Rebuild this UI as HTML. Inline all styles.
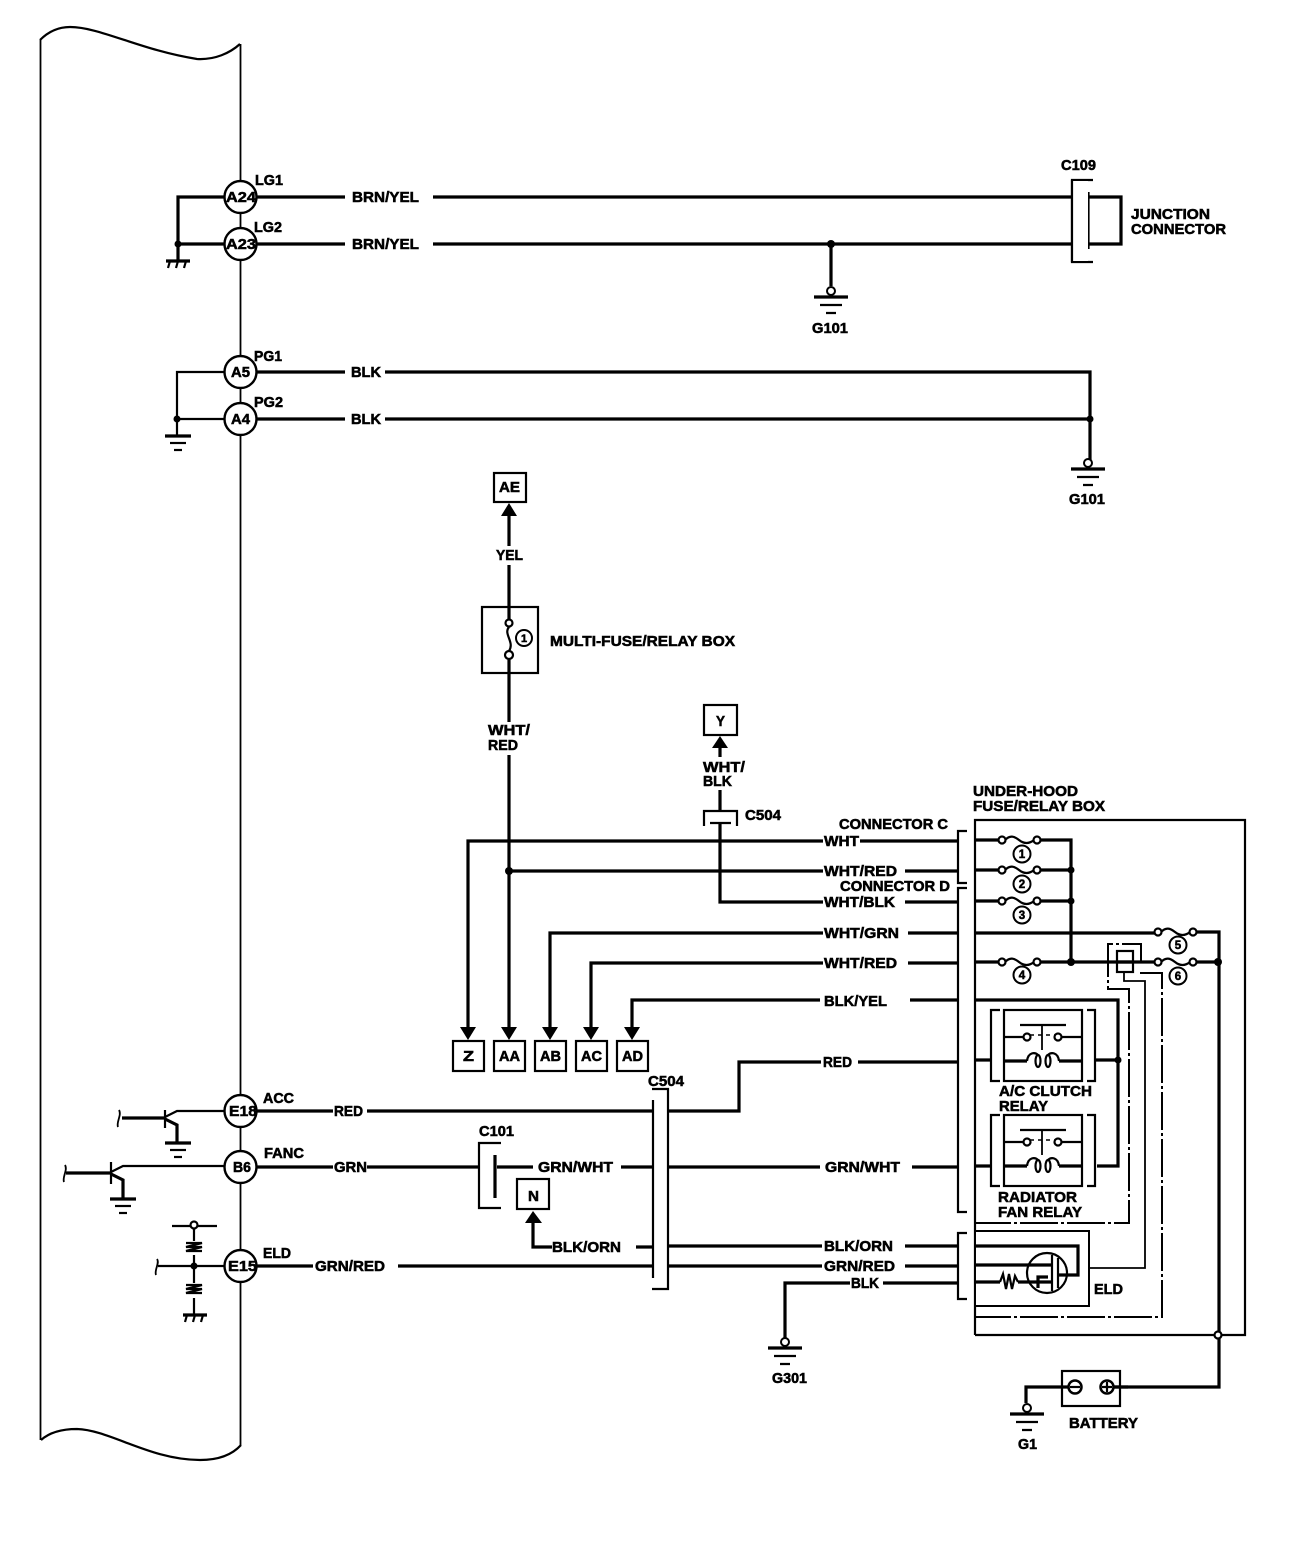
<!DOCTYPE html>
<html><head><meta charset="utf-8"><style>
html,body{margin:0;padding:0;background:#fff}
svg{display:block}
text{font-family:"Liberation Sans",sans-serif;font-weight:700;font-size:14.5px;fill:#000;stroke:#000;stroke-width:.55}
.c{text-anchor:middle}
.w3{stroke:#000;stroke-width:3.2;fill:none}
.w2{stroke:#000;stroke-width:2.2;fill:none}
.w1{stroke:#000;stroke-width:1.8;fill:none}
.dd{stroke:#000;stroke-width:2;fill:none;stroke-dasharray:38 3 3 3}
</style></head><body>
<svg xmlns="http://www.w3.org/2000/svg" width="1312" height="1564" viewBox="0 0 1312 1564">
<defs>
<g id="gnd"><path d="M-17 0H17" class="w3"/><path d="M-11 8H11M-5 16H5" class="w2"/><circle cx="0" cy="-6" r="4" fill="#fff" stroke="#000" stroke-width="2"/></g>
<g id="gnd2"><path d="M-13 0H13" class="w3"/><path d="M-8 7H8" class="w2"/><path d="M-4 14H4" class="w2"/></g>
<g id="hatch"><path d="M-12 0H12" class="w3"/><path d="M-8 0L-10 7M0 0L-2 7M8 0L6 7" class="w2"/></g>
<g id="fuse"><path d="M3 0C8 -5 12 -4 17 0S27 4 32 0" fill="none" stroke="#000" stroke-width="2.2"/><circle cx="0" cy="0" r="3.5" fill="#fff" stroke="#000" stroke-width="2.2"/><circle cx="35" cy="0" r="3.5" fill="#fff" stroke="#000" stroke-width="2.2"/></g>
<g id="relay"><path d="M9 0H0V71H9M96 0H104V71H96" class="w2"/><rect x="13" y="0" width="78" height="71" fill="#fff" stroke="#000" stroke-width="2.2"/>
<path d="M29 15H75" class="w2"/><path d="M51 15V40" class="w1"/><path d="M13 27H33M71 27H91" class="w2"/><path d="M39 25H66" stroke="#000" stroke-width="1.5" stroke-dasharray="4 4"/><circle cx="36" cy="27" r="3.5" fill="#fff" stroke="#000" stroke-width="2.2"/><circle cx="67" cy="27" r="3.5" fill="#fff" stroke="#000" stroke-width="2.2"/>
<path d="M13 51H36M68 51H91" class="w3"/><path d="M36 51C37 42 44 42 47 45M57 45C60 42 67 42 68 51" class="w2"/><ellipse cx="47" cy="51" rx="2.5" ry="6" fill="#fff" stroke="#000" stroke-width="2.2"/><ellipse cx="57" cy="51" rx="2.5" ry="6" fill="#fff" stroke="#000" stroke-width="2.2"/></g>
</defs>

<!-- ECU body -->
<path d="M40 40C48 32 58 27 70 27C100 27 140 50 197 59C215 60 230 53 240 44" class="w2"/>
<path d="M41 1440C50 1432 62 1429 77 1429C110 1430 150 1460 200 1460C218 1460 232 1455 241 1445" class="w2"/>
<path d="M40.5 40V1440" class="w1"/><path d="M240.5 44V1445" class="w1"/>

<!-- Top wires -->
<path d="M257 197H345M433 197H1121V244H433M345 244H257" class="w3"/>
<path d="M224 197H178V260M224 244H178" class="w3"/>
<circle cx="178" cy="244" r="3.5" fill="#000"/>
<use href="#hatch" x="178" y="261"/>
<path d="M1093 180H1072V262H1093" class="w2"/><path d="M1088.5 192V249" class="w2"/>
<rect x="1073" y="181" width="15" height="80" fill="#fff"/><path d="M1072 180V262" class="w2"/>
<path d="M831 244V286" class="w3"/><circle cx="831" cy="244" r="4" fill="#000"/><use href="#gnd" x="831" y="297"/>

<path d="M257 372H345M385 372H1090V462M385 419H1090M345 419H257" class="w3"/>
<path d="M224 372H177V435M224 419H177" class="w2"/><circle cx="177" cy="419" r="3.5" fill="#000"/><use href="#gnd2" x="178" y="436"/>
<circle cx="1090" cy="419" r="3.5" fill="#000"/><use href="#gnd" x="1088" y="469"/>

<!-- AE / multi fuse -->
<rect x="494" y="473" width="32" height="29" fill="#fff" class="w2"/>
<path d="M509 503L501 516H517Z" fill="#000"/><path d="M509 514V546M509 565V620M509 659V722M509 755V1030" class="w3"/>
<rect x="482" y="607" width="56" height="66" fill="none" class="w2"/>
<circle cx="509" cy="623" r="3.5" fill="#fff" stroke="#000" stroke-width="2.2"/><circle cx="509" cy="655" r="4" fill="#fff" stroke="#000" stroke-width="2.2"/>
<path d="M509 627C503 634 515 642 509 651" class="w2"/>
<circle cx="524" cy="638" r="8" fill="#fff" stroke="#000" stroke-width="2"/>

<!-- Y / C504 small -->
<rect x="704" y="705" width="33" height="30" fill="#fff" class="w2"/>
<path d="M720 736L712 748H728Z" fill="#000"/><path d="M720 746V757M720 790V811" class="w3"/>
<path d="M704 826V811H737V826" class="w2"/><path d="M710 823H731" class="w2"/>
<path d="M720 823V902H823M905 902H958" class="w3"/>

<!-- long wires centre -->
<path d="M823 841H468V1030M860 841H958" class="w3"/>
<path d="M823 871H509M905 871H958" class="w3"/><circle cx="509" cy="871" r="4" fill="#000"/>
<path d="M823 933H550V1030M908 933H958" class="w3"/>
<path d="M823 963H591V1030M908 963H958" class="w3"/>
<path d="M820 1000H632V1030M910 1000H958" class="w3"/>
<g fill="#000"><path d="M468 1040L460 1027H476Z"/><path d="M509 1040L501 1027H517Z"/><path d="M550 1040L542 1027H558Z"/><path d="M591 1040L583 1027H599Z"/><path d="M632 1040L624 1027H640Z"/></g>
<g fill="#fff" class="w2"><rect x="453" y="1041" width="31" height="30"/><rect x="494" y="1041" width="31" height="30"/><rect x="535" y="1041" width="31" height="30"/><rect x="576" y="1041" width="31" height="30"/><rect x="617" y="1041" width="31" height="30"/></g>

<!-- connector brackets -->
<path d="M967 831H958V883H967M967 888H958V1212H967M967 1233H958V1299H967" class="w2"/>

<!-- Under hood box -->
<path d="M975 1335V820H1245V1335H975" class="w2"/>
<path d="M975 840H999M1040 840H1071V963M975 870H999M1040 870H1071M975 901H999M1040 901H1071" class="w3"/>
<path d="M975 933H1155M1196 932H1219V1387H1114M975 962H999M1040 962H1155M1196 962H1219" class="w3"/>
<g fill="#000"><circle cx="1071" cy="870" r="3.5"/><circle cx="1071" cy="901" r="3.5"/><circle cx="1071" cy="962" r="4"/><circle cx="1218" cy="962" r="4"/></g>
<use href="#fuse" x="1002" y="840"/><use href="#fuse" x="1002" y="870"/><use href="#fuse" x="1002" y="901"/><use href="#fuse" x="1002" y="962"/><use href="#fuse" x="1158" y="932"/><use href="#fuse" x="1158" y="962"/>
<g fill="#fff" stroke="#000" stroke-width="2"><circle cx="1022" cy="854" r="8.5"/><circle cx="1022" cy="884" r="8.5"/><circle cx="1022" cy="915" r="8.5"/><circle cx="1022" cy="975" r="8.5"/><circle cx="1178" cy="945" r="8.5"/><circle cx="1178" cy="976" r="8.5"/></g>
<circle cx="1218" cy="1335" r="3.5" fill="#fff" stroke="#000" stroke-width="2.2"/>

<!-- ELD relay mini -->
<rect x="1117" y="951" width="16" height="21" fill="#fff" class="w2"/><path d="M1117 962H1133" class="w3"/>
<path d="M1141 963V944H1108V989H1129V1223H975" class="dd"/>
<path d="M1141 972V973H1162V1317H975" class="dd"/>
<path d="M1124 972V981H1145V1268H1089" class="w1"/>

<!-- relays -->
<path d="M975 1000H1118V1166H1097M975 1060H992M1096 1060H1118M975 1166H992" class="w3"/>
<circle cx="1118" cy="1060" r="3.5" fill="#000"/>
<use href="#relay" x="991" y="1010"/><use href="#relay" x="991" y="1115"/>

<!-- ELD -->
<rect x="975" y="1231" width="114" height="75" fill="#fff" stroke="#000" stroke-width="2"/>
<path d="M975 1246H1078V1275H1058M975 1265H1052M975 1282H1000M1018 1282H1052" class="w3"/>
<path d="M1000 1282L1003 1274L1006 1289L1009 1274L1012 1289L1015 1276L1018 1282" class="w2"/>
<circle cx="1047" cy="1273" r="20" fill="none" class="w2"/><path d="M1052 1255V1291M1058 1258V1288" class="w2"/>
<path d="M1038 1288V1277H1048" class="w3"/>

<!-- lower left -->
<path d="M122 1118H165" class="w3"/><path d="M119 1110C122 1115 116 1122 118 1127" class="w1"/>
<path d="M165 1110V1128" class="w2"/><path d="M165 1117L177 1111H225" class="w2"/><path d="M165 1119L177 1125V1142" class="w3"/>
<use href="#gnd2" x="178" y="1143"/>
<path d="M66 1173H111" class="w3"/><path d="M65 1165C68 1170 62 1177 64 1182" class="w1"/>
<path d="M111 1162V1184" class="w2"/><path d="M111 1172L123 1166H225" class="w2"/><path d="M111 1174L123 1180V1198" class="w3"/>
<use href="#gnd2" x="123" y="1199"/>
<path d="M158 1266H225" class="w2"/><path d="M157 1259C160 1263 154 1270 156 1275" class="w1"/>
<path d="M172 1226H217M194 1226V1241M194 1255V1283M194 1298V1314" class="w2"/>
<circle cx="194" cy="1225" r="3.5" fill="#fff" stroke="#000" stroke-width="2.2"/><circle cx="194" cy="1266" r="3.5" fill="#000"/>
<path d="M186 1243H202L186 1247H202L186 1251H202M186 1285H202L186 1289H202L186 1293H202" class="w2"/>
<use href="#hatch" x="195" y="1315"/>

<!-- lower wires -->
<path d="M257 1111H333M367 1111H653M668 1111H739V1062H821M858 1062H958" class="w3"/>
<path d="M257 1167H333M367 1167H480M497 1167H533M621 1167H653M668 1167H820M912 1167H958" class="w3"/>
<path d="M257 1266H313M398 1266H653M668 1266H822M905 1266H958" class="w3"/>
<path d="M668 1246H822M905 1246H958M636 1247H653" class="w3"/>
<path d="M850 1283H785V1338M883 1283H958" class="w3"/><use href="#gnd" x="785" y="1348"/>
<path d="M501 1143H479V1208H501" class="w2"/><path d="M495 1155V1198" class="w3"/>
<rect x="517" y="1179" width="32" height="30" fill="#fff" class="w2"/>
<path d="M533 1211L525 1223H542Z" fill="#000"/><path d="M533 1221V1247H552" class="w3"/>
<rect x="653" y="1092" width="15" height="194" fill="#fff"/>
<path d="M652 1089H668V1289H652" class="w2"/><path d="M653 1100V1278" class="w2"/>

<!-- battery -->
<rect x="1062" y="1371" width="58" height="35" fill="#fff" class="w2"/>
<path d="M1068 1387H1026V1403" class="w3"/><path d="M1114 1387H1128" class="w3"/>
<circle cx="1075" cy="1387" r="6.5" fill="#fff" stroke="#000" stroke-width="2.5"/><path d="M1070 1387H1080" class="w2"/>
<circle cx="1107" cy="1387" r="6.5" fill="#fff" stroke="#000" stroke-width="2.5"/><path d="M1102 1387H1112M1107 1382V1392" class="w2"/>
<use href="#gnd" x="1027" y="1414"/>

<!-- terminals -->
<g fill="#fff" stroke="#000" stroke-width="2.4"><circle cx="240.500" cy="197" r="16"/><circle cx="240.500" cy="244" r="16"/><circle cx="240.500" cy="372" r="16"/><circle cx="240.500" cy="419" r="16"/><circle cx="240.500" cy="1111" r="16"/><circle cx="240.500" cy="1167" r="16"/><circle cx="240.500" cy="1266" r="16"/></g>
<text x="226" y="202" textLength="30" lengthAdjust="spacingAndGlyphs">A24</text>
<text x="226" y="249" textLength="30" lengthAdjust="spacingAndGlyphs">A23</text>
<text x="231" y="377" textLength="19" lengthAdjust="spacingAndGlyphs">A5</text>
<text x="231" y="424" textLength="19" lengthAdjust="spacingAndGlyphs">A4</text>
<text x="229" y="1116" textLength="28" lengthAdjust="spacingAndGlyphs">E18</text>
<text x="233" y="1172" textLength="18" lengthAdjust="spacingAndGlyphs">B6</text>
<text x="228" y="1271" textLength="29" lengthAdjust="spacingAndGlyphs">E15</text>

<text x="255" y="185" textLength="28" lengthAdjust="spacingAndGlyphs">LG1</text>
<text x="254" y="232" textLength="28" lengthAdjust="spacingAndGlyphs">LG2</text>
<text x="254" y="361" textLength="28" lengthAdjust="spacingAndGlyphs">PG1</text>
<text x="254" y="407" textLength="29" lengthAdjust="spacingAndGlyphs">PG2</text>
<text x="263" y="1103" textLength="31" lengthAdjust="spacingAndGlyphs">ACC</text>
<text x="264" y="1158" textLength="40" lengthAdjust="spacingAndGlyphs">FANC</text>
<text x="263" y="1258" textLength="28" lengthAdjust="spacingAndGlyphs">ELD</text>

<text x="352" y="202" textLength="67" lengthAdjust="spacingAndGlyphs">BRN/YEL</text>
<text x="352" y="249" textLength="67" lengthAdjust="spacingAndGlyphs">BRN/YEL</text>
<text x="351" y="377" textLength="30" lengthAdjust="spacingAndGlyphs">BLK</text>
<text x="351" y="424" textLength="30" lengthAdjust="spacingAndGlyphs">BLK</text>
<text x="1061" y="170" textLength="35" lengthAdjust="spacingAndGlyphs">C109</text>
<text x="1131" y="219" textLength="79" lengthAdjust="spacingAndGlyphs">JUNCTION</text>
<text x="1131" y="234" textLength="95" lengthAdjust="spacingAndGlyphs">CONNECTOR</text>
<text x="812" y="333" textLength="36" lengthAdjust="spacingAndGlyphs">G101</text>
<text x="1069" y="504" textLength="36" lengthAdjust="spacingAndGlyphs">G101</text>
<text x="499" y="492" textLength="21" lengthAdjust="spacingAndGlyphs">AE</text>
<text x="496" y="560" textLength="27" lengthAdjust="spacingAndGlyphs">YEL</text>
<text x="524" y="642" class="c" style="font-size:11px">1</text>
<text x="550" y="646" textLength="185" lengthAdjust="spacingAndGlyphs">MULTI-FUSE/RELAY BOX</text>
<text x="488" y="735" textLength="42" lengthAdjust="spacingAndGlyphs">WHT/</text>
<text x="488" y="750" textLength="30" lengthAdjust="spacingAndGlyphs">RED</text>
<text x="716" y="726" textLength="9" lengthAdjust="spacingAndGlyphs">Y</text>
<text x="703" y="772" textLength="42" lengthAdjust="spacingAndGlyphs">WHT/</text>
<text x="703" y="786" textLength="29" lengthAdjust="spacingAndGlyphs">BLK</text>
<text x="745" y="820" textLength="36" lengthAdjust="spacingAndGlyphs">C504</text>
<text x="973" y="796" textLength="105" lengthAdjust="spacingAndGlyphs">UNDER-HOOD</text>
<text x="973" y="811" textLength="132" lengthAdjust="spacingAndGlyphs">FUSE/RELAY BOX</text>
<text x="839" y="829" textLength="109" lengthAdjust="spacingAndGlyphs">CONNECTOR C</text>
<text x="824" y="846" textLength="35" lengthAdjust="spacingAndGlyphs">WHT</text>
<text x="824" y="876" textLength="73" lengthAdjust="spacingAndGlyphs">WHT/RED</text>
<text x="840" y="891" textLength="110" lengthAdjust="spacingAndGlyphs">CONNECTOR D</text>
<text x="824" y="907" textLength="71" lengthAdjust="spacingAndGlyphs">WHT/BLK</text>
<text x="824" y="938" textLength="75" lengthAdjust="spacingAndGlyphs">WHT/GRN</text>
<text x="824" y="968" textLength="73" lengthAdjust="spacingAndGlyphs">WHT/RED</text>
<text x="824" y="1006" textLength="63" lengthAdjust="spacingAndGlyphs">BLK/YEL</text>
<g class="c"><text x="1022" y="858" class="c" style="font-size:11.5px">1</text><text x="1022" y="888" class="c" style="font-size:11.5px">2</text><text x="1022" y="919" class="c" style="font-size:11.5px">3</text><text x="1022" y="979" class="c" style="font-size:11.5px">4</text><text x="1178" y="949" class="c" style="font-size:11.5px">5</text><text x="1178" y="980" class="c" style="font-size:11.5px">6</text></g>
<text x="463" y="1061" textLength="11" lengthAdjust="spacingAndGlyphs">Z</text>
<text x="499" y="1061" textLength="21" lengthAdjust="spacingAndGlyphs">AA</text>
<text x="540" y="1061" textLength="21" lengthAdjust="spacingAndGlyphs">AB</text>
<text x="581" y="1061" textLength="21" lengthAdjust="spacingAndGlyphs">AC</text>
<text x="622" y="1061" textLength="21" lengthAdjust="spacingAndGlyphs">AD</text>
<text x="823" y="1067" textLength="29" lengthAdjust="spacingAndGlyphs">RED</text>
<text x="648" y="1086" textLength="36" lengthAdjust="spacingAndGlyphs">C504</text>
<text x="999" y="1096" textLength="93" lengthAdjust="spacingAndGlyphs">A/C CLUTCH</text>
<text x="999" y="1111" textLength="49" lengthAdjust="spacingAndGlyphs">RELAY</text>
<text x="334" y="1116" textLength="29" lengthAdjust="spacingAndGlyphs">RED</text>
<text x="479" y="1136" textLength="35" lengthAdjust="spacingAndGlyphs">C101</text>
<text x="334" y="1172" textLength="33" lengthAdjust="spacingAndGlyphs">GRN</text>
<text x="538" y="1172" textLength="75" lengthAdjust="spacingAndGlyphs">GRN/WHT</text>
<text x="825" y="1172" textLength="75" lengthAdjust="spacingAndGlyphs">GRN/WHT</text>
<text x="528" y="1201" textLength="11" lengthAdjust="spacingAndGlyphs">N</text>
<text x="998" y="1202" textLength="79" lengthAdjust="spacingAndGlyphs">RADIATOR</text>
<text x="998" y="1217" textLength="84" lengthAdjust="spacingAndGlyphs">FAN RELAY</text>
<text x="552" y="1252" textLength="69" lengthAdjust="spacingAndGlyphs">BLK/ORN</text>
<text x="824" y="1251" textLength="69" lengthAdjust="spacingAndGlyphs">BLK/ORN</text>
<text x="315" y="1271" textLength="70" lengthAdjust="spacingAndGlyphs">GRN/RED</text>
<text x="824" y="1271" textLength="71" lengthAdjust="spacingAndGlyphs">GRN/RED</text>
<text x="851" y="1288" textLength="28" lengthAdjust="spacingAndGlyphs">BLK</text>
<text x="1094" y="1294" textLength="29" lengthAdjust="spacingAndGlyphs">ELD</text>
<text x="772" y="1383" textLength="35" lengthAdjust="spacingAndGlyphs">G301</text>
<text x="1069" y="1428" textLength="69" lengthAdjust="spacingAndGlyphs">BATTERY</text>
<text x="1018" y="1449" textLength="19" lengthAdjust="spacingAndGlyphs">G1</text>
</svg>
</body></html>
